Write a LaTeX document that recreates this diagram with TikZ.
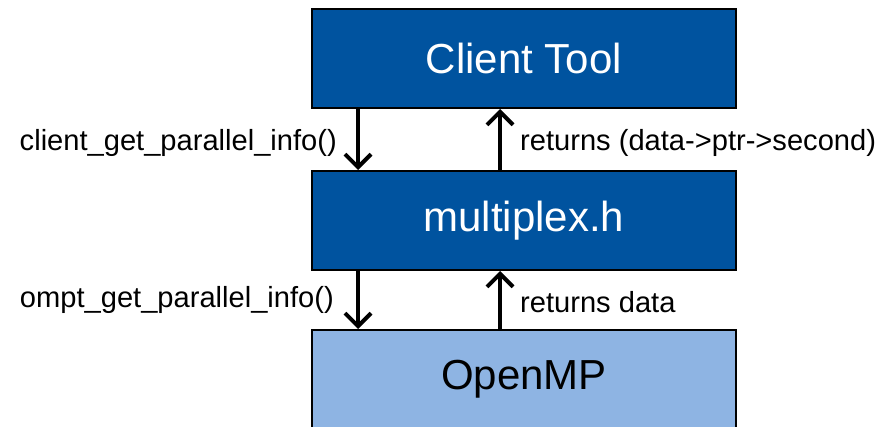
\documentclass[tikz,border=0pt]{standalone}
\usepackage{fontspec}
\setmainfont{Liberation Sans}
\usetikzlibrary{arrows.meta}
\definecolor{darkbox}{RGB}{0,83,159}
\definecolor{lightbox}{RGB}{142,180,227}
\tikzset{
  layer/.style={draw=black, line width=2pt, minimum width=424pt, minimum height=99pt,
    inner sep=0pt, font=\fontsize{42}{48}\selectfont},
  flow/.style={line width=4pt, -{Straight Barb[length=13pt,width=26pt,line width=4pt]}},
  lbl/.style={inner sep=0pt, font=\fontsize{29.1}{34}\selectfont},
}
\begin{document}
\begin{tikzpicture}[x=1pt,y=1pt]
  \useasboundingbox (0,0) rectangle (894,426);
  \clip (0,0) rectangle (894,426);
  \fill[white] (0,0) rectangle (894,426);
  % three stacked layers
  \node[layer, fill=darkbox, text=white] (client) at (524,367.5) {Client Tool};
  \node[layer, fill=darkbox, text=white] (mux) at (524,205.5) {multiplex.h};
  \node[layer, fill=lightbox, text=black] (omp) at (524,46.5) {OpenMP};
  % calls going down, results coming back up
  \draw[flow] ([xshift=-166pt]client.south) -- ([xshift=-166pt]mux.north);
  \draw[flow] ([xshift=-24pt]mux.north) -- ([xshift=-24pt]client.south);
  \draw[flow] ([xshift=-166pt]mux.south) -- ([xshift=-166pt]omp.north);
  \draw[flow] ([xshift=-24pt]omp.north) -- ([xshift=-24pt]mux.south);
  % labels
  \node[lbl, anchor=east] (l1) at (337,283) {client\_get\_parallel\_info()};
  \node[lbl, anchor=west] (l2) at (520,283) {returns (data->ptr->second)};
  \node[lbl, anchor=east] (l3) at (334,126) {ompt\_get\_parallel\_info()};
  \node[lbl, anchor=west] (l4) at (520,124) {returns data};
\end{tikzpicture}
\end{document}
